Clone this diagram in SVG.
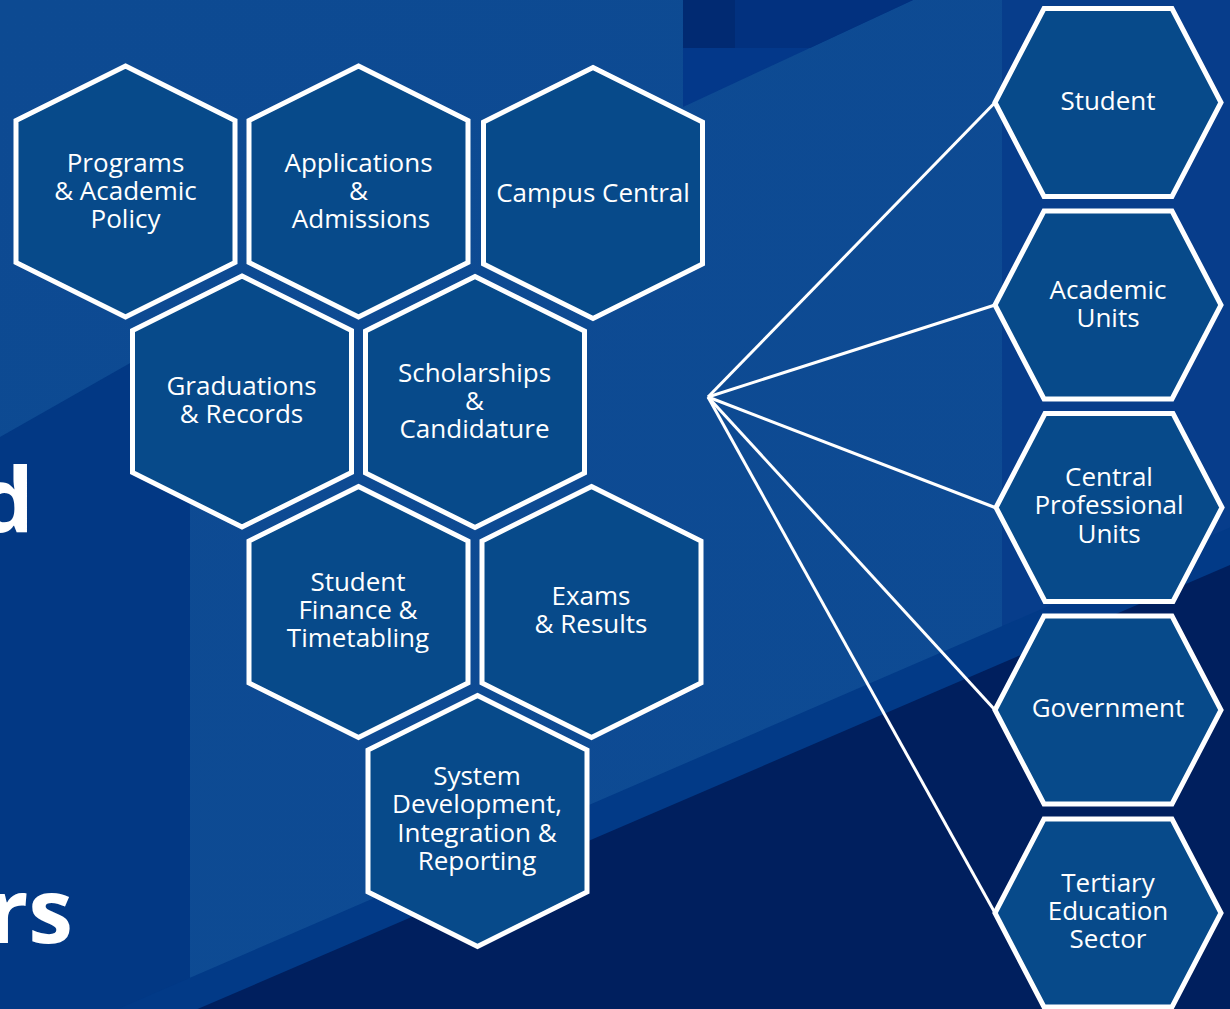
<svg xmlns="http://www.w3.org/2000/svg" xmlns:xlink="http://www.w3.org/1999/xlink" width="1230" height="1009" viewBox="0 0 1230 1009">
<defs>
<style>
.hex{fill:#074a8a;stroke:#ffffff;stroke-width:5;stroke-linejoin:miter}
.lbl{font-family:"Open Sans","Noto Sans","Liberation Sans",sans-serif;font-size:26px;fill:#ffffff;text-anchor:middle}
.big{font-family:"Open Sans","Noto Sans","Liberation Sans",sans-serif;font-size:90px;font-weight:bold;fill:#ffffff;text-anchor:end}
.conn{stroke:#ffffff;stroke-width:3;fill:none}
</style>
<polygon id="hexP" points="0,-125.5 109.5,-71 109.5,71 0,125.5 -109.5,71 -109.5,-71"/>
<polygon id="hexF" points="-113,0 -64,-94 64,-94 113,0 64,94 -64,94"/>
<linearGradient id="bgG" x1="0" y1="0" x2="1" y2="1">
<stop offset="0" stop-color="#0d4a92"/>
<stop offset="1" stop-color="#0e4b94"/>
</linearGradient>
</defs>

<g id="background">
<rect x="0" y="0" width="1230" height="1009" fill="url(#bgG)"/>
<polygon points="0,437 190,329 190,1009 0,1009" fill="#023884"/>
<polygon points="683,0 913,0 683,107" fill="#03388a"/>
<polygon points="735,0 913,0 810,48 735,48" fill="#02317f"/>
<rect x="683" y="0" width="52" height="48" fill="#012a72"/>
<rect x="1002" y="0" width="228" height="1009" fill="#073d8b"/>
<polygon points="0,1060 1230,527.5 1230,1009 0,1009" fill="#023a87"/>
<polygon points="0,1094 1230,565 1230,1009 0,1009" fill="#001f5e"/>
<text class="big" x="34" y="532">d</text>
<text class="big" x="73" y="943">rs</text>
</g>

<g id="connectors">
<line class="conn" x1="708" y1="397" x2="995" y2="102.5"/>
<line class="conn" x1="708" y1="397" x2="995" y2="305"/>
<line class="conn" x1="708" y1="397" x2="995" y2="507.5"/>
<line class="conn" x1="708" y1="397" x2="995" y2="710"/>
<line class="conn" x1="708" y1="397" x2="995" y2="913"/>
</g>

<g id="programs">
<use href="#hexP" xlink:href="#hexP" class="hex" x="125.5" y="191.5"/>
<text class="lbl" x="125.5" y="172">Programs</text>
<text class="lbl" x="125.5" y="200">&amp; Academic</text>
<text class="lbl" x="125.5" y="228">Policy</text>
</g>
<g id="applications">
<use href="#hexP" xlink:href="#hexP" class="hex" x="358.5" y="191.5"/>
<text class="lbl" x="358.5" y="172">Applications</text>
<text class="lbl" x="358.5" y="200">&amp;</text>
<text class="lbl" x="361" y="228">Admissions</text>
</g>
<g id="campus-central">
<use href="#hexP" xlink:href="#hexP" class="hex" x="593" y="193"/>
<text class="lbl" x="593" y="202">Campus Central</text>
</g>
<g id="graduations">
<use href="#hexP" xlink:href="#hexP" class="hex" x="242" y="401.5"/>
<text class="lbl" x="241.5" y="395">Graduations</text>
<text class="lbl" x="241.5" y="423">&amp; Records</text>
</g>
<g id="scholarships">
<use href="#hexP" xlink:href="#hexP" class="hex" x="475" y="402"/>
<text class="lbl" x="474.5" y="382">Scholarships</text>
<text class="lbl" x="474.5" y="410">&amp;</text>
<text class="lbl" x="474.5" y="438">Candidature</text>
</g>
<g id="student-finance">
<use href="#hexP" xlink:href="#hexP" class="hex" x="358.5" y="612"/>
<text class="lbl" x="358" y="591">Student</text>
<text class="lbl" x="358" y="619">Finance &amp;</text>
<text class="lbl" x="358" y="647">Timetabling</text>
</g>
<g id="exams">
<use href="#hexP" xlink:href="#hexP" class="hex" x="591.5" y="612"/>
<text class="lbl" x="591" y="605">Exams</text>
<text class="lbl" x="591" y="633">&amp; Results</text>
</g>
<g id="system-development">
<use href="#hexP" xlink:href="#hexP" class="hex" x="477.5" y="821"/>
<text class="lbl" x="477" y="785">System</text>
<text class="lbl" x="477" y="813">Development,</text>
<text class="lbl" x="477" y="842">Integration &amp;</text>
<text class="lbl" x="477" y="870">Reporting</text>
</g>

<g id="student">
<use href="#hexF" xlink:href="#hexF" class="hex" x="1108" y="102.5"/>
<text class="lbl" x="1108" y="110">Student</text>
</g>
<g id="academic-units">
<use href="#hexF" xlink:href="#hexF" class="hex" x="1108" y="305"/>
<text class="lbl" x="1108" y="299">Academic</text>
<text class="lbl" x="1108" y="327">Units</text>
</g>
<g id="central-professional-units">
<use href="#hexF" xlink:href="#hexF" class="hex" x="1109" y="507.5"/>
<text class="lbl" x="1109" y="486">Central</text>
<text class="lbl" x="1109" y="514">Professional</text>
<text class="lbl" x="1109" y="543">Units</text>
</g>
<g id="government">
<use href="#hexF" xlink:href="#hexF" class="hex" x="1108" y="710"/>
<text class="lbl" x="1108" y="717">Government</text>
</g>
<g id="tertiary-education-sector">
<use href="#hexF" xlink:href="#hexF" class="hex" x="1108" y="913"/>
<text class="lbl" x="1108" y="892">Tertiary</text>
<text class="lbl" x="1108" y="920">Education</text>
<text class="lbl" x="1108" y="948">Sector</text>
</g>
</svg>
